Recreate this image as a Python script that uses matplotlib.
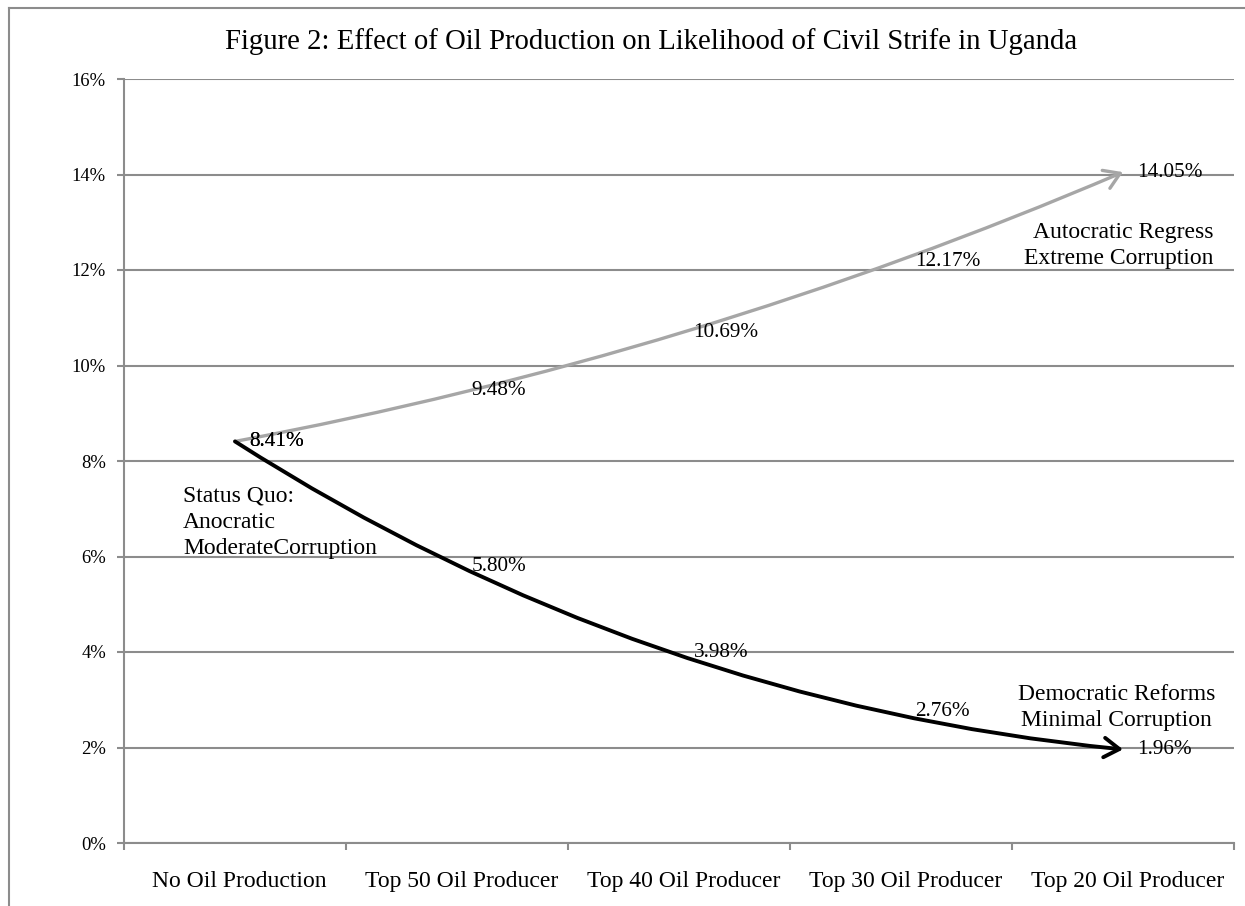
import matplotlib
matplotlib.use("Agg")
import matplotlib.pyplot as plt
from matplotlib.lines import Line2D
from matplotlib.ticker import FuncFormatter, FixedLocator

plt.rcParams['font.family'] = ['Liberation Serif', 'DejaVu Serif']

categories = ["No Oil Production", "Top 50 Oil Producer", "Top 40 Oil Producer",
              "Top 30 Oil Producer", "Top 20 Oil Producer"]
autocratic = [8.41, 9.48, 10.69, 12.17, 14.05]
democratic = [8.41, 5.80, 3.98, 2.76, 1.96]
y_ticks = [0, 2, 4, 6, 8, 10, 12, 14, 16]

title = "Figure 2: Effect of Oil Production on Likelihood of Civil Strife in Uganda"

GRID = '#8c8c8c'
GRAYLINE = '#a6a6a6'

fig = plt.figure(figsize=(12.45, 9.06), dpi=100)
ax = fig.add_axes([124/1245, 63/906, 1110/1245, 764/906])

x = list(range(len(categories)))
ax.set_xlim(-0.5, len(categories) - 0.5)
ax.set_ylim(0, 16)

# gridlines
ax.set_yticks(y_ticks)
ax.yaxis.set_major_formatter(FuncFormatter(lambda v, p: f"{v:.0f}%"))
ax.grid(axis='y', color=GRID, linewidth=1.5)
ax.set_axisbelow(True)

# x ticks at category boundaries, labels at centers
ax.xaxis.set_major_locator(FixedLocator([i - 0.5 for i in range(len(categories) + 1)]))
ax.xaxis.set_major_formatter(FuncFormatter(lambda v, p: ""))
ax.xaxis.set_minor_locator(FixedLocator([xi + 0.02 for xi in x]))
ax.set_xticklabels(categories, minor=True)
ax.tick_params(axis='x', which='major', direction='out', length=5, width=1.5, color=GRID)
ax.tick_params(axis='x', which='minor', length=0, pad=20, labelsize=17)
ax.tick_params(axis='y', direction='out', length=5, width=1.5, color=GRID, pad=8, labelsize=13.4)

for s in ['top', 'right']:
    ax.spines[s].set_visible(False)
for s in ['left', 'bottom']:
    ax.spines[s].set_color(GRID)
    ax.spines[s].set_linewidth(1.5)

# curved arrows
ax.annotate("", xy=(x[-1], autocratic[-1]), xytext=(x[0], autocratic[0]),
            arrowprops=dict(arrowstyle="->,head_length=0.55,head_width=0.35",
                            mutation_scale=20, color=GRAYLINE, lw=2.4,
                            shrinkA=0, shrinkB=0,
                            connectionstyle="arc3,rad=0.055"))
ax.annotate("", xy=(x[-1], democratic[-1]), xytext=(x[0], democratic[0]),
            arrowprops=dict(arrowstyle="->,head_length=0.55,head_width=0.35",
                            mutation_scale=20, color='black', lw=2.8,
                            shrinkA=0, shrinkB=0,
                            connectionstyle="arc3,rad=0.12"))

# data labels
for xi, v in zip(x, autocratic):
    ax.annotate(f"{v:.2f}%", xy=(xi, v), xytext=(10.5, 0), textcoords='offset points',
                ha='left', va='center', fontsize=15.3)
for xi, v in zip(x, democratic):
    ax.annotate(f"{v:.2f}%", xy=(xi, v), xytext=(10.5, 0), textcoords='offset points',
                ha='left', va='center', fontsize=15.3)

# scenario notes
ax.text(4.406, 12.51, "Autocratic Regress\nExtreme Corruption", ha='right', va='center',
        fontsize=17, linespacing=1.27)
ax.text(3.97, 2.84, "Democratic Reforms\nMinimal Corruption", ha='center', va='center',
        fontsize=17, linespacing=1.27)
ax.text(-0.234, 6.72, "Status Quo:\nAnocratic\nModerateCorruption", ha='left', va='center',
        fontsize=17, linespacing=1.32)

fig.text(651/1245, 1 - 42/906, title, ha='center', va='center', fontsize=20.7)

# outer frame
fig.add_artist(Line2D([9/1245, 9/1245], [-0.01, 1 - 7.5/906], transform=fig.transFigure,
                      color=GRID, lw=1.5))
fig.add_artist(Line2D([9/1245, 1.01], [1 - 7.5/906, 1 - 7.5/906], transform=fig.transFigure,
                      color=GRID, lw=1.5))

fig.savefig("out.png", dpi=100)
